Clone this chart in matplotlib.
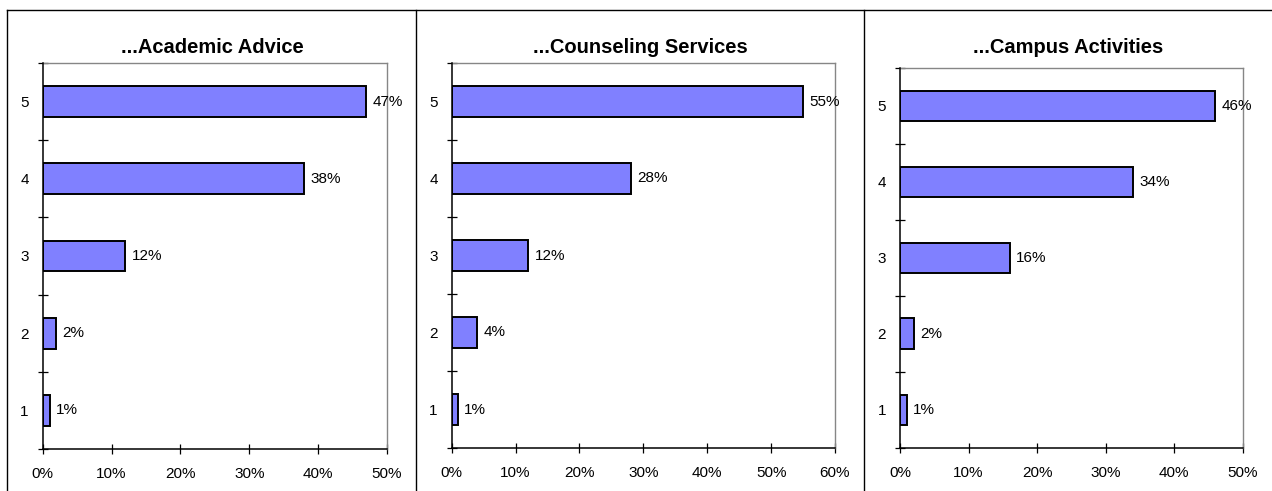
import matplotlib.pyplot as plt
import numpy as np
from matplotlib.lines import Line2D
from matplotlib.ticker import PercentFormatter

plt.rcParams['font.family'] = ['Liberation Sans', 'DejaVu Sans']

# Rating scale and share of answers per rating (percent)
ratings = [1, 2, 3, 4, 5]
academic_advice = [1, 2, 12, 38, 47]
counseling_services = [1, 4, 12, 28, 55]
campus_activities = [1, 2, 16, 34, 46]

titles = ["...Academic Advice", "...Counseling Services", "...Campus Activities"]
series = [academic_advice, counseling_services, campus_activities]
x_limits = [50, 60, 50]

W, H = 1272, 491
fig = plt.figure(figsize=(W / 100, H / 100), dpi=100)

# plot areas in pixels: left, right, top, bottom
boxes = [(42.7, 387.0, 63.0, 449.0),
         (451.7, 835.0, 63.0, 448.0),
         (900.0, 1242.7, 67.7, 447.7)]
title_pos = [(212.7, 53.3), (640.8, 53.3), (1068.5, 52.7)]

bar_color = '#8080FF'
grey = '#868686'

for vals, title, xmax, (l, r, t, b), (tx, ty) in zip(series, titles, x_limits, boxes, title_pos):
    ax = fig.add_axes([l / W, 1 - b / H, (r - l) / W, (b - t) / H])
    ax.barh(ratings, vals, height=0.4, color=bar_color, edgecolor='black', linewidth=1.4, zorder=2)
    for y, v in zip(ratings, vals):
        ax.annotate(f"{v:.0f}%", (v, y), xytext=(4.5, 0), textcoords='offset points',
                    va='center', ha='left', fontsize=11, clip_on=False, zorder=3)

    ax.set_xlim(0, xmax)
    ax.set_ylim(0.5, 5.5)
    ax.set_xticks(np.arange(0, xmax + 1, 10))
    ax.xaxis.set_major_formatter(PercentFormatter(xmax=100, decimals=0))
    ax.set_yticks(ratings)
    ax.set_yticks(np.arange(0.5, 5.6, 1), minor=True)
    ax.tick_params(axis='y', which='major', length=0, pad=10, labelsize=11)
    ax.tick_params(axis='y', which='minor', direction='inout', length=7.5, width=0.9)
    ax.tick_params(axis='x', direction='inout', length=7.5, width=0.9, pad=9.5, labelsize=11)

    for side in ('left', 'bottom'):
        ax.spines[side].set_color('black')
        ax.spines[side].set_linewidth(1.1)
        ax.spines[side].set_zorder(4)
    for side in ('top', 'right'):
        ax.spines[side].set_color(grey)
        ax.spines[side].set_linewidth(1.0)

    fig.text(tx / W, 1 - ty / H, title, ha='center', va='baseline',
             fontsize=14.5, fontweight='bold')

# chart borders around the three panels
frame = [((7, W), (10, 10)), ((7, 7), (10, H)), ((416, 416), (10, H)), ((864, 864), (10, H))]
for xs, ys in frame:
    fig.add_artist(Line2D([x / W for x in xs], [1 - y / H for y in ys],
                          transform=fig.transFigure, color='black', linewidth=1.0))

fig.savefig('out.png', dpi=100)
